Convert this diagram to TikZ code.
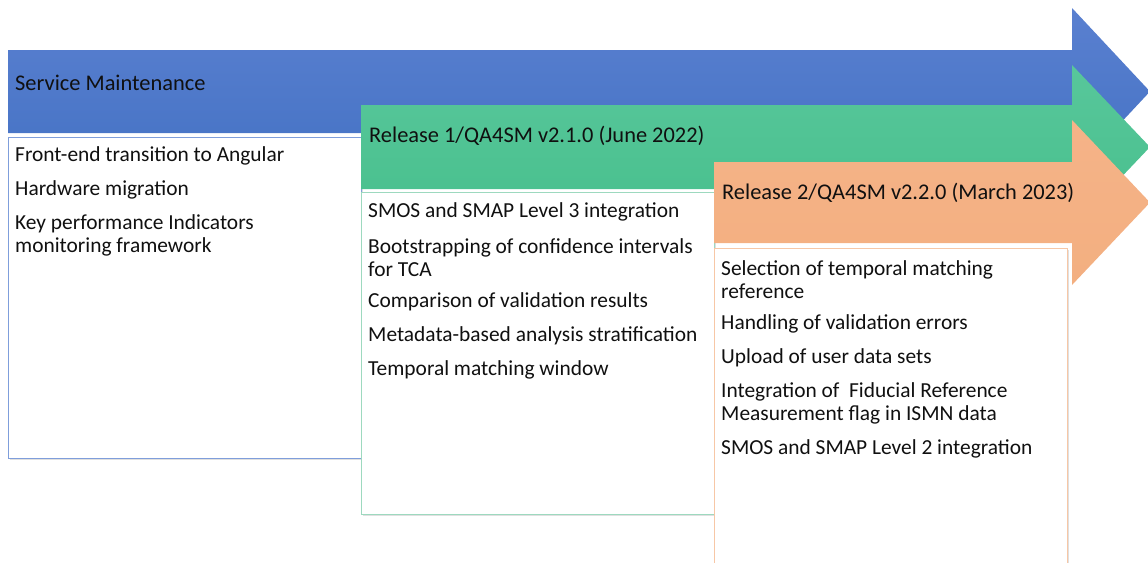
\documentclass[tikz,border=0pt]{standalone}
\usepackage{fontspec}
\setmainfont{Carlito}
\definecolor{blueA}{HTML}{5A80D0}
\definecolor{blueB}{HTML}{4472C4}
\definecolor{greenA}{HTML}{58C79B}
\definecolor{greenB}{HTML}{47BF8C}
\definecolor{orangeA}{HTML}{F5B388}
\definecolor{orangeB}{HTML}{F3AF80}
\definecolor{blueLine}{HTML}{7F9EDB}
\definecolor{greenLine}{HTML}{9DD9BF}
\definecolor{orangeLine}{HTML}{F7C7A6}
\definecolor{txt}{HTML}{101010}
\tikzset{
  itemtext/.style={anchor=west, inner sep=0pt, align=left, text=txt,
    font=\fontsize{21.4}{23}\selectfont},
  headtext/.style={anchor=west, inner sep=0pt, text=txt,
    font=\fontsize{22.4}{24}\selectfont},
  boxshadow/.style={fill=black!12, draw=none},
}
\begin{document}
\begin{tikzpicture}[x=1pt,y=-1pt]
\useasboundingbox (0,0) rectangle (1148,562);
% Service maintenance arrow and box
\shade[top color=blueA, bottom color=blueB]
  (8,50) -- (1072,50) -- (1072,8) -- (1150,91.5) -- (1072,175) -- (1072,133) -- (8,133) -- cycle;
\fill[boxshadow] (9.5,138.5) rectangle (362.5,459.5);
\draw[blueLine, fill=white, line width=0.8pt] (8,137) rectangle (361,458);
% Release 1 arrow and box
\shade[top color=greenA, bottom color=greenB]
  (361,105) -- (1072,105) -- (1072,65) -- (1150,147) -- (1072,229) -- (1072,189) -- (361,189) -- cycle;
\fill[boxshadow] (362.5,193.5) rectangle (715.5,515.5);
\draw[greenLine, fill=white, line width=0.8pt] (361,192) rectangle (714,514);
% Release 2 arrow and box
\shade[top color=orangeA, bottom color=orangeB]
  (714,162) -- (1072,162) -- (1072,120) -- (1150,202.5) -- (1072,285) -- (1072,243) -- (714,243) -- cycle;
\fill[boxshadow] (715.5,249.5) rectangle (1068.5,566);
\draw[orangeLine, fill=white, line width=0.8pt] (714,248) rectangle (1067,566);

% Headers
\node[headtext] (h0) at (15,82.5) {Service Maintenance};
\node[headtext] (h1) at (369,135.5) {Release 1/QA4SM v2.1.0 (June 2022)};
\node[headtext] (h2) at (722,192.5) {Release 2/QA4SM v2.2.0 (March 2023)};

% Service maintenance items
\node[itemtext] (s1) at (15,156) {Front-end transition to Angular};
\node[itemtext] (s2) at (15,190) {Hardware migration};
\node[itemtext] (s3) at (15,235) {Key performance Indicators\\monitoring framework};

% Release 1 items
\node[itemtext] (r1) at (368,212) {SMOS and SMAP Level 3 integration};
\node[itemtext] (r2) at (368,257.5) {Bootstrapping of confidence intervals\\for TCA};
\node[itemtext] (r3) at (368,302) {Comparison of validation results};
\node[itemtext] (r4) at (368,336) {Metadata-based analysis stratification};
\node[itemtext] (r5) at (368,370) {Temporal matching window};

% Release 2 items
\node[itemtext] (q1) at (721,279.5) {Selection of temporal matching\\reference};
\node[itemtext] (q2) at (721,324) {Handling of validation errors};
\node[itemtext] (q3) at (721,358) {Upload of user data sets};
\node[itemtext] (q4) at (721,403.5) {Integration of~ Fiducial Reference\\Measurement flag in ISMN data};
\node[itemtext] (q5) at (721,449) {SMOS and SMAP Level 2 integration};
\end{tikzpicture}
\end{document}
